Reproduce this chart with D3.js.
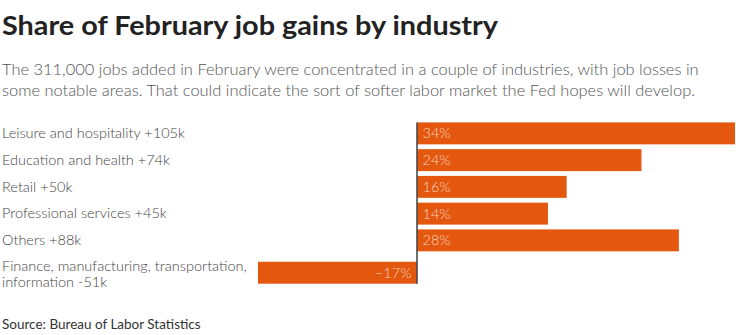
<!DOCTYPE html>
<html>
<head>
<meta charset="utf-8">
<script src="https://cdn.jsdelivr.net/npm/d3@7"></script>
<style>
  body { margin: 0; background: #fff; }
  svg { display: block; }
</style>
</head>
<body>
<svg id="chart" width="736" height="335"></svg>
<script>
// industry rows, label lines and share of total gain (%)
const industries = [
    "Leisure and hospitality",
    "Education and health",
    "Retail",
    "Professional services",
    "Others",
    "Finance, manufacturing, transportation, information"
];
const labelLines = [
    ["Leisure and hospitality +105k"],
    ["Education and health +74k"],
    ["Retail +50k"],
    ["Professional services +45k"],
    ["Others +88k"],
    ["Finance, manufacturing, transportation,", "information -51k"]
];
const shares = [34, 24, 16, 14, 28, -17];

const title = "Share of February job gains by industry";
const subtitle = [
    "The 311,000 jobs added in February were concentrated in a couple of industries, with job losses in",
    "some notable areas. That could indicate the sort of softer labor market the Fed hopes will develop."
];
const source = "Source: Bureau of Labor Statistics";

const ORANGE = "#e3570f";
const FONT = "Lato, 'Open Sans', sans-serif";

const svg = d3.select("#chart");

// set a text element's advance to a fixed width
function fitWidth(sel, target) {
    sel.attr("textLength", target).attr("lengthAdjust", "spacingAndGlyphs");
}
function condense(sel, ratio) {
    sel.each(function () {
        const w = this.getComputedTextLength();
        d3.select(this).attr("textLength", w * ratio).attr("lengthAdjust", "spacingAndGlyphs");
    });
}

// header
svg.append("text")
    .attr("x", 2).attr("y", 35)
    .attr("font-family", FONT).attr("font-weight", 700)
    .attr("font-size", 26).attr("fill", "#222")
    .text(title)
    .call(fitWidth, 496);

// subtitle: shrink the font until the longer line fits
const sub = svg.selectAll(".sub")
    .data(subtitle)
    .enter().append("text")
    .attr("class", "sub")
    .attr("x", 2).attr("y", (d, i) => 75 + i * 21)
    .attr("font-family", FONT).attr("font-weight", 300)
    .attr("font-size", 18.5).attr("fill", "#555")
    .text(d => d);
const subW = d3.max(sub.nodes(), n => n.getComputedTextLength());
if (subW > 697) sub.attr("font-size", 18.5 * 697 / subW);

// scales
const x = d3.scaleLinear()
    .domain([0, 34])
    .range([417, 735]);

const y = d3.scaleBand()
    .domain(industries)
    .range([120, 280.5])
    .paddingInner(0.18)
    .paddingOuter(0.09);

// extra room for rows whose label wraps onto a second line
const extraPerLine = 5.6;
const rowY = (d, i) => y(d) + (labelLines[i].length - 1) * extraPerLine;
const bh = y.bandwidth();

const rows = svg.append("g")
    .selectAll("g")
    .data(industries)
    .enter().append("g")
    .attr("transform", (d, i) => `translate(0,${rowY(d, i)})`);

rows.append("rect")
    .attr("x", (d, i) => x(Math.min(0, shares[i])))
    .attr("y", 0)
    .attr("width", (d, i) => Math.abs(x(shares[i]) - x(0)))
    .attr("height", bh)
    .attr("fill", ORANGE);

rows.append("text")
    .attr("x", (d, i) => shares[i] >= 0 ? x(0) + 5.5 : x(0) - 5.5)
    .attr("y", bh / 2)
    .attr("dy", "0.35em")
    .attr("text-anchor", (d, i) => shares[i] >= 0 ? "start" : "end")
    .attr("font-family", FONT).attr("font-weight", 300)
    .attr("font-size", 14.5).attr("fill", "#fbd3bb")
    .text((d, i) => (shares[i] < 0 ? "\u2212" + Math.abs(shares[i]) : shares[i]) + "%");

// category labels
const catText = rows.append("text")
    .attr("font-family", FONT).attr("font-weight", 300)
    .attr("font-size", 14.5).attr("fill", "#444")
    .attr("y", (d, i) => labelLines[i].length > 1 ? bh / 2 - 2.2 : bh / 2 + 4.8);

catText.selectAll("tspan")
    .data((d, i) => labelLines[i])
    .enter().append("tspan")
    .attr("x", 2)
    .attr("dy", (d, j) => j === 0 ? 0 : 16.2)
    .text(d => d);

const ref = catText.selectAll("tspan").nodes().find(n => n.textContent.startsWith("Finance"));
const catRatio = 247 / ref.getComputedTextLength();
if (catRatio < 1) catText.selectAll("tspan").call(condense, catRatio);

// zero line
const first = rowY(industries[0], 0);
const last = rowY(industries[5], 5) + bh;
svg.append("line")
    .attr("x1", x(0)).attr("x2", x(0))
    .attr("y1", first).attr("y2", last)
    .attr("stroke", "#4a4a4a").attr("stroke-width", 1.6);

// source
svg.append("text")
    .attr("x", 2).attr("y", 329)
    .attr("font-family", FONT).attr("font-weight", 400)
    .attr("font-size", 13.5).attr("fill", "#333")
    .text(source);
</script>
</body>
</html>
